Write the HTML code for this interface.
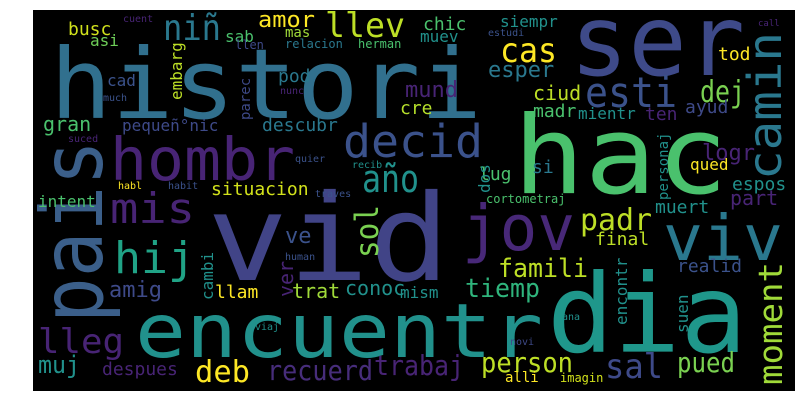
<!DOCTYPE html>
<html><head><meta charset="utf-8"><style>
html,body{margin:0;padding:0;background:#fff;width:805px;height:415px;overflow:hidden}
svg{position:absolute;left:0;top:0}
text{font-family:"DejaVu Sans Mono","Liberation Mono",monospace}
</style></head><body>
<svg width="805" height="415">
<rect x="33" y="10" width="762" height="381" fill="#000"/>
<g id="words"></g>
</svg>
<script>
// [text, x, baseline, fontSize, color, width(0=auto), rotated(0/1)]
const words = [
 ["histori",50,118,97,"#31708e",432,0],
 ["ser",570,75,98,"#3e4a89",175,0],
 ["hac",513,193,108,"#4ac16d",215,0],
 ["vid",207,280,120,"#414487",243,0],
 ["dia",547,352,109,"#1f978b",200,0],
 ["encuentr",135,357,75,"#21918c",408,0],
 ["pais",102,323,86,"#3b5f8a",183,1],
 ["hombr",110,180,59,"#482475",185,0],
 ["decid",343,157,45,"#3b528b",140,0],
 ["jov",462,250,63,"#482878",113,0],
 ["viv",663,260,63,"#2a788e",120,0],
 ["mis",110,223,42,"#482475",85,0],
 ["hij",114,273,44,"#20a386",81,0],
 ["año",362,192,38,"#21918c",57,0],
 ["sol",378,258,32,"#7ad151",53,1],
 ["camin",781,180,46,"#2a788e",148,1],
 ["moment",782,385,33,"#a0da39",123,1],
 ["llev",325,37,34,"#bddf26",80,0],
 ["niñ",163,40,36,"#2a788e",58,0],
 ["amor",258,27,22,"#fde725",57,0],
 ["cas",500,62,34,"#fde725",57,0],
 ["esti",585,107,42,"#3b528b",92,0],
 ["dej",700,102,30,"#7ad151",45,0],
 ["lleg",38,353,34,"#482475",86,0],
 ["muj",38,373,24,"#21918c",42,0],
 ["deb",195,382,30,"#fde725",55,0],
 ["recuerd",267,380,28,"#472d7b",106,0],
 ["trabaj",374,375,28,"#482475",90,0],
 ["person",481,372,28,"#bddf26",92,0],
 ["sal",605,378,34,"#3e4a89",58,0],
 ["pued",677,372,28,"#7ad151",58,0],
 ["padr",580,230,30,"#bddf26",72,0],
 ["famili",498,277,26,"#bddf26",90,0],
 ["tiemp",465,297,26,"#2fb47c",75,0],
 ["busc",68,35,18,"#d0e11c",0,0],
 ["asi",90,46,16,"#6ece58",0,0],
 ["sab",225,42,16,"#4ac16d",0,0],
 ["mas",285,37,14,"#a0da39",0,0],
 ["cad",107,86,16,"#3b528b",0,0],
 ["pod",278,82,18,"#2a788e",0,0],
 ["gran",43,131,20,"#4ac16d",0,0],
 ["pequeñ°nic",122,131,16,"#3e4a89",0,0],
 ["descubr",262,131,18,"#2a788e",0,0],
 ["situacion",211,195,18,"#d2e21b",0,0],
 ["intent",38,207,16,"#4ac16d",0,0],
 ["embarg",182,100,16,"#bddf26",0,1],
 ["parec",250,120,14,"#3e4a89",0,1],
 ["relacion",285,48,12,"#2a788e",0,0],
 ["herman",358,48,12,"#4ac16d",0,0],
 ["llen",235,49,12,"#3e4a89",0,0],
 ["chic",423,30,18,"#4ac16d",0,0],
 ["muev",420,42,16,"#21918c",0,0],
 ["siempr",500,27,16,"#21918c",0,0],
 ["mund",405,97,22,"#482475",0,0],
 ["esper",488,77,22,"#2a788e",0,0],
 ["ciud",533,100,20,"#bddf26",0,0],
 ["madr",533,117,18,"#4ac16d",0,0],
 ["mientr",578,119,16,"#21918c",0,0],
 ["ten",645,120,18,"#482475",0,0],
 ["cre",400,114,18,"#b5de2b",0,0],
 ["ayud",685,113,18,"#3e4a89",0,0],
 ["logr",702,160,22,"#482475",0,0],
 ["qued",690,170,16,"#fde725",0,0],
 ["espos",732,190,18,"#21918c",0,0],
 ["part",730,205,20,"#482475",0,0],
 ["muert",655,213,18,"#21918c",0,0],
 ["si",532,173,18,"#2a788e",0,0],
 ["lug",479,180,18,"#4ac16d",0,0],
 ["dos",490,193,16,"#21918c",0,1],
 ["personaj",668,200,14,"#21918c",0,1],
 ["cortometraj",486,203,12,"#4ac16d",0,0],
 ["tod",718,60,18,"#fde725",0,0],
 ["ve",285,243,22,"#3b528b",0,0],
 ["ver",293,297,20,"#482475",0,1],
 ["amig",109,297,22,"#3e4a89",0,0],
 ["cambi",213,300,16,"#21918c",0,1],
 ["llam",215,298,18,"#fde725",0,0],
 ["trat",292,298,20,"#a0da39",0,0],
 ["conoc",345,295,20,"#21918c",0,0],
 ["mism",400,298,16,"#21918c",0,0],
 ["final",595,245,18,"#bddf26",0,0],
 ["realid",677,272,18,"#3b528b",0,0],
 ["encontr",627,325,16,"#21918c",0,1],
 ["suen",688,333,16,"#21918c",0,1],
 ["despues",102,375,18,"#482475",0,0],
 ["alli",505,382,14,"#fde725",0,0],
 ["imagin",560,382,12,"#d2e21b",0,0],
 ["cuent",123,22,10,"#482475",0,0],
 ["estudi",488,36,10,"#3b528b",0,0],
 ["call",758,26,9,"#482475",0,0],
 ["recib",352,168,10,"#21918c",0,0],
 ["quier",295,162,10,"#3b528b",0,0],
 ["habl",118,189,10,"#fde725",0,0],
 ["habit",168,189,10,"#3b528b",0,0],
 ["traves",315,197,10,"#3b528b",0,0],
 ["suced",68,142,10,"#482475",0,0],
 ["nunc",280,94,10,"#482475",0,0],
 ["much",103,101,10,"#3b528b",0,0],
 ["human",285,260,10,"#3b528b",0,0],
 ["viaj",255,330,10,"#21918c",0,0],
 ["novi",510,345,10,"#3e4a89",0,0],
 ["ana",562,320,10,"#21918c",0,0]
];
const g = document.getElementById('words');
const NS = 'http://www.w3.org/2000/svg';
words.forEach(w => {
  const t = document.createElementNS(NS,'text');
  
  
  t.setAttribute('font-size', w[3]);
  t.setAttribute('fill', w[4]);
  if (w[5] > 0) { t.setAttribute('textLength', w[5]); t.setAttribute('lengthAdjust', 'spacingAndGlyphs'); }
  if (w[6]) { t.setAttribute('transform', 'translate(' + w[1] + ',' + w[2] + ') rotate(-90)'); t.setAttribute('x', 0); t.setAttribute('y', 0); }
  else { t.setAttribute('x', w[1]); t.setAttribute('y', w[2]); }
  t.textContent = w[0];
  g.appendChild(t);
});
</script>
</body></html>
